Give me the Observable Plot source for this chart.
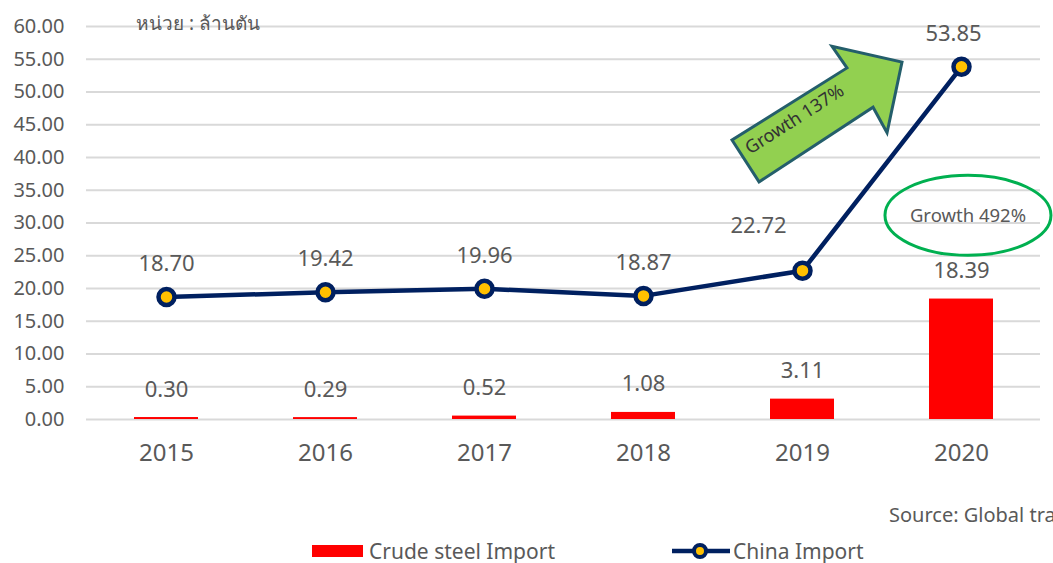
<!DOCTYPE html>
<html>
<head>
<meta charset="utf-8">
<script src="https://cdn.jsdelivr.net/npm/d3@7"></script>
<script src="https://cdn.jsdelivr.net/npm/@observablehq/plot@0.6"></script>
<style>
  html, body { margin: 0; padding: 0; background: #fff; }
  body { width: 1053px; height: 563px; overflow: hidden; position: relative;
         font-family: "Noto Sans", "Open Sans", sans-serif; color: #595959; }
  #chart { position: absolute; left: 0; top: 0; }
  #source { position: absolute; left: 889px; top: 501px; font-size: 20px; color: #595959; white-space: nowrap; }
  .item { position: absolute; top: 539px; font-size: 21px; line-height: 24px; color: #595959; white-space: nowrap; display: flex; align-items: center; height: 24px; }
</style>
</head>
<body>
<div id="chart"></div>
<div id="source">Source: Global trade atlas</div>
<div class="item" style="left:312px"><span style="display:inline-block;width:51px;height:12px;background:#FF0000;margin-right:6px"></span>Crude steel Import</div>
<div class="item" style="left:671px"><svg width="61" height="20" style="margin-right:1px"><line x1="1" y1="10" x2="59" y2="10" stroke="#002060" stroke-width="4.5"/><circle cx="29" cy="10" r="6" fill="#FFC000" stroke="#002060" stroke-width="4"/></svg>China Import</div>
<script>
const years = ["2015", "2016", "2017", "2018", "2019", "2020"];
const crudeSteel = [0.30, 0.29, 0.52, 1.08, 3.11, 18.39];
const chinaImport = [18.70, 19.42, 19.96, 18.87, 22.72, 53.85];
const yTicks = [0, 5, 10, 15, 20, 25, 30, 35, 40, 45, 50, 55, 60];
const unitLabel = "หน่วย : ล้านตัน";
const growthLine = "Growth 137%";
const growthBar = "Growth 492%";

const rows = years.map((y, i) => ({year: y, steel: crudeSteel[i], china: chinaImport[i]}));

const W = 1053, H = 495;
const ML = 86, MR = 13, MT = 26, MB = H - 419;
const fmt = d3.format(".2f");
const GREY = "#595959";

// annotation in data-ish units: u = category index (fractional), v = value
const arrowPts = [[3.563, 42.6], [3.733, 36.2], [4.45, 47.6], [4.538, 43.7], [4.632, 54.5], [4.192, 56.9], [4.286, 53.6]];
const arrowText = {u: 3.96, v: 45.6, angle: -32.5};
const ellipse = {u: 5.047, v: 31.1, rx: 83, ry: 40};

function annotations(index, scales, values, dims) {
  const step = (dims.width - dims.marginLeft - dims.marginRight) / years.length;
  const px = (u) => dims.marginLeft + step * (u + 0.5);
  const py = (v) => scales.y(v);
  const g = d3.create("svg:g");
  g.append("polygon")
    .attr("points", arrowPts.map(([u, v]) => `${px(u)},${py(v)}`).join(" "))
    .attr("fill", "#92D050").attr("stroke", "#245E6B").attr("stroke-width", 3).attr("stroke-linejoin", "miter");
  g.append("text")
    .attr("transform", `translate(${px(arrowText.u)},${py(arrowText.v)}) rotate(${arrowText.angle})`)
    .attr("text-anchor", "middle").attr("dominant-baseline", "middle")
    .attr("font-size", 18).attr("fill", "#333").text(growthLine);
  g.append("ellipse")
    .attr("cx", px(ellipse.u)).attr("cy", py(ellipse.v)).attr("rx", ellipse.rx).attr("ry", ellipse.ry)
    .attr("fill", "none").attr("stroke", "#00B050").attr("stroke-width", 3);
  g.append("text")
    .attr("x", px(ellipse.u)).attr("y", py(ellipse.v) + 2)
    .attr("text-anchor", "middle").attr("dominant-baseline", "middle")
    .attr("font-size", 18.5).attr("fill", GREY).text(growthBar);
  g.append("text")
    .attr("x", 136).attr("y", py(60) - 1)
    .attr("text-anchor", "start").attr("dominant-baseline", "middle")
    .attr("font-size", 19).attr("fill", GREY).text(unitLabel);
  return g.node();
}

const chart = Plot.plot({
  width: W, height: H,
  marginLeft: ML, marginRight: MR, marginTop: MT, marginBottom: MB,
  style: {fontFamily: '"Noto Sans", "Open Sans", sans-serif', background: "#fff", overflow: "visible"},
  x: {type: "band", domain: years, paddingInner: 0.6, paddingOuter: 0.3, label: null},
  y: {domain: [0, 60], label: null},
  marks: [
    Plot.ruleY(yTicks, {stroke: "#D9D9D9", strokeWidth: 2}),
    Plot.axisY({ticks: yTicks, tickFormat: fmt, tickSize: 0, tickPadding: 22, fontSize: 20, color: GREY, label: null}),
    Plot.axisX({tickSize: 0, tickPadding: 24, fontSize: 24, color: GREY, label: null}),
    Plot.barY(rows, {x: "year", y: "steel", fill: "#FF0000"}),
    Plot.line(rows, {x: "year", y: "china", stroke: "#002060", strokeWidth: 4.5}),
    Plot.dot(rows, {x: "year", y: "china", r: 8, fill: "#FFC000", stroke: "#002060", strokeWidth: 4.5}),
    Plot.text(rows, {x: "year", y: "steel", text: d => fmt(d.steel), dy: -28, fontSize: 22, fill: GREY}),
    Plot.text(rows.filter(d => d.year <= "2018"), {x: "year", y: "china", text: d => fmt(d.china), dy: -33, fontSize: 22, fill: GREY}),
    Plot.text(rows.filter(d => d.year === "2019"), {x: "year", y: "china", text: d => fmt(d.china), dx: -44, dy: -45, fontSize: 22, fill: GREY}),
    Plot.text(rows.filter(d => d.year === "2020"), {x: "year", y: "china", text: d => fmt(d.china), dx: -8, dy: -33, fontSize: 22, fill: GREY}),
    annotations
  ]
});
document.getElementById("chart").appendChild(chart);
</script>
</body>
</html>
